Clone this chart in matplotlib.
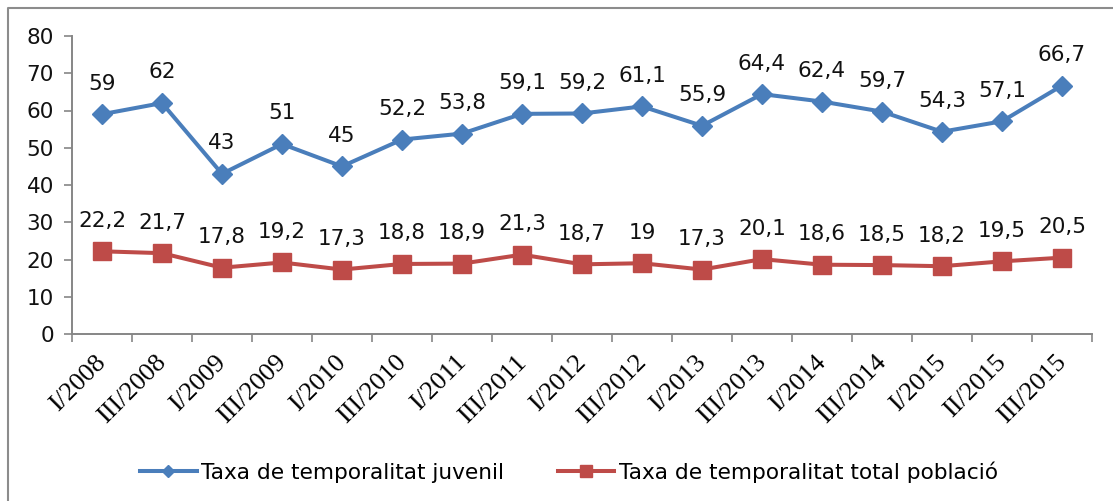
import matplotlib.pyplot as plt
import matplotlib.transforms as mtransforms
from matplotlib.lines import Line2D
import numpy as np

# data
periods = ['I/2008', 'III/2008', 'I/2009', 'III/2009', 'I/2010', 'III/2010',
           'I/2011', 'III/2011', 'I/2012', 'III/2012', 'I/2013', 'III/2013',
           'I/2014', 'III/2014', 'I/2015', 'II/2015', 'III/2015']
juvenil = [59, 62, 43, 51, 45, 52.2, 53.8, 59.1, 59.2, 61.1, 55.9, 64.4,
           62.4, 59.7, 54.3, 57.1, 66.7]
total = [22.2, 21.7, 17.8, 19.2, 17.3, 18.8, 18.9, 21.3, 18.7, 19, 17.3, 20.1,
         18.6, 18.5, 18.2, 19.5, 20.5]
label_juvenil = 'Taxa de temporalitat juvenil'
label_total = 'Taxa de temporalitat total població'

blue = '#4A7EBB'
red = '#BE4B48'
grey = '#868686'

plt.rcParams['font.family'] = ['DejaVu Sans']

fig = plt.figure(figsize=(11.13, 5.01), dpi=100)
ax = fig.add_axes([72 / 1113, 1 - 334 / 501, 1020 / 1113, 298 / 501])

x = np.arange(len(periods))
ax.plot(x, juvenil, color=blue, lw=2.9, marker='D', ms=10, zorder=3)
ax.plot(x, total, color=red, lw=2.9, marker='s', ms=13, zorder=3)


def fmt(v):
    s = ('%g' % v).replace('.', ',')
    return s


for xi, v in zip(x, juvenil):
    ax.annotate(fmt(v), (xi, v), xytext=(0, 22), textcoords='offset points',
                ha='center', va='center', fontsize=15.5, color='#111111')
for xi, v in zip(x, total):
    ax.annotate(fmt(v), (xi, v), xytext=(0, 22), textcoords='offset points',
                ha='center', va='center', fontsize=15.5, color='#111111')

ax.set_xlim(-0.5, len(periods) - 0.5)
ax.set_ylim(0, 80)
ax.set_yticks(np.arange(0, 81, 10))
ax.tick_params(axis='y', direction='out', length=6, width=1.2, color=grey,
               labelsize=15.5, pad=7, labelcolor='#111111')

# ticks at category boundaries, labels at centres
ax.set_xticks(x)
ax.set_xticklabels(periods, rotation=45, ha='right', va='center',
                   rotation_mode='anchor', fontsize=19, family='Liberation Serif')
ax.set_xticks(np.arange(-0.5, len(periods), 1), minor=True)
ax.tick_params(axis='x', which='major', length=0, pad=18)
ax.tick_params(axis='x', which='minor', direction='out', length=6, width=1.2,
               color=grey)
offset = mtransforms.ScaledTranslation(1 / 100, 0, fig.dpi_scale_trans)
for lab in ax.get_xticklabels():
    lab.set_transform(lab.get_transform() + offset)

for s in ['top', 'right']:
    ax.spines[s].set_visible(False)
for s in ['left', 'bottom']:
    ax.spines[s].set_color(grey)
    ax.spines[s].set_linewidth(1.4)

handles = [Line2D([], [], color=blue, lw=2.9, marker='D', ms=6),
           Line2D([], [], color=red, lw=2.9, marker='s', ms=8)]
fig.legend(handles, [label_juvenil, label_total], loc='center',
           bbox_to_anchor=(569 / 1113, 1 - 472 / 501), ncol=2, frameon=False,
           fontsize=15.6, handlelength=2.6, handletextpad=0.2, columnspacing=2.5)

# outer chart border (top and left visible only)
fig.add_artist(Line2D([8 / 1113, 8 / 1113, 1], [0, 1 - 8 / 501, 1 - 8 / 501],
                      color='#8c8c8c', lw=1.5, transform=fig.transFigure))

fig.savefig('out.png', dpi=100)
